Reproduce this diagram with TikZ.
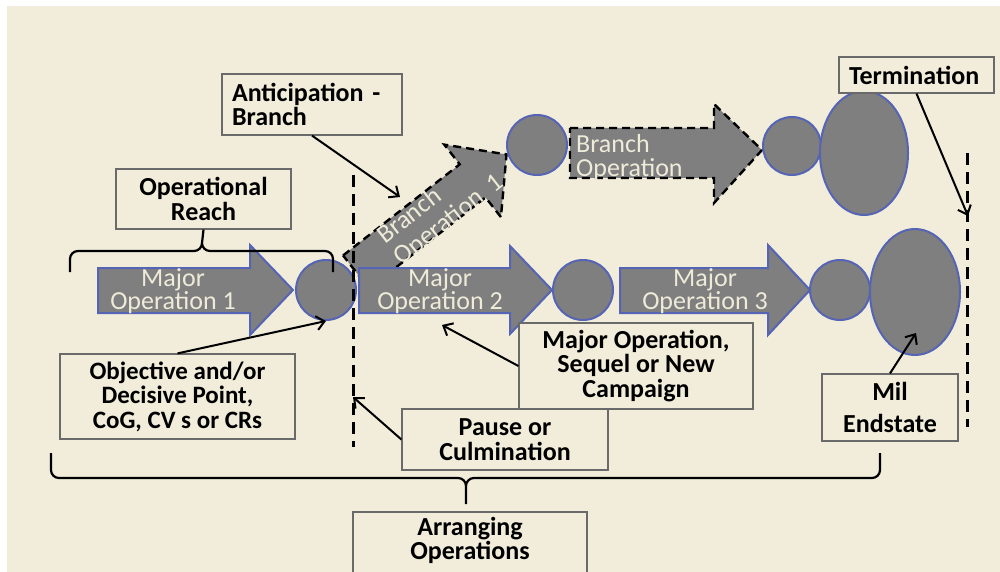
\documentclass[tikz,border=0pt]{standalone}
\usepackage{fontspec}
\setmainfont{Carlito}
\usetikzlibrary{arrows.meta,shapes.geometric}
\definecolor{bg}{HTML}{F1EDDA}
\definecolor{opfill}{HTML}{7F7F7F}
\definecolor{opedge}{HTML}{5564B4}
\definecolor{optext}{HTML}{EEEBD9}
\definecolor{boxedge}{HTML}{6A6A6A}
\tikzset{
  opshape/.style={fill=opfill, draw=opedge, line width=2pt, line join=miter},
  branchshape/.style={fill=opfill, draw=black, line width=2.4pt, dash pattern=on 8pt off 5pt},
  opnode/.style={opshape, inner sep=0pt},
  optxt/.style={text=optext, font=\fontsize{26}{22}\selectfont, align=center, inner sep=0pt},
  lbltxt/.style={inner sep=0pt, font=\bfseries\fontsize{26}{24.5}\selectfont, align=center},
  lbl/.style={lbltxt, draw=boxedge, line width=1.2pt, fill=bg},
  frame/.style={draw=boxedge, line width=1.2pt},
  conn/.style={draw=black, line width=2pt, -{Straight Barb[length=8pt,width=14pt]}},
  brace/.style={draw=black, line width=2.2pt},
  phase/.style={draw=black, line width=3pt, dash pattern=on 12pt off 7pt},
}
\begin{document}
\begin{tikzpicture}[x=1pt,y=-1pt]
\useasboundingbox (0,0) rectangle (1000,572);
\fill[white] (0,0) rectangle (1000,572);
\fill[bg] (7,6) rectangle (1000,572);

% branch operation 1, leaving the main line diagonally
\begin{scope}[shift={(356,272)}, rotate=38]
  \path[branchshape] (0,-21) -- (148,-21) -- (148,-46) -- (191,0) -- (148,46) -- (148,21) -- (0,21) -- cycle;
\end{scope}

% main line of operations
\path[opshape] (98,268) -- (250,268) -- (250,245) -- (293,290) -- (250,335) -- (250,313) -- (98,313) -- cycle;
\node[optxt] (mo1) at (173,291) {Major\\Operation 1};
\node[opnode, circle, minimum size=60pt] (c1) at (326,290) {};

\path[opshape] (359,268) -- (510,268) -- (510,246) -- (552,290) -- (510,334) -- (510,313) -- (359,313) -- cycle;
\node[optxt] (mo2) at (440,291) {Major\\Operation 2};
\node[opnode, circle, minimum size=60pt] (c2) at (583,290) {};

\path[opshape] (620,268) -- (768,268) -- (768,245) -- (810,290) -- (768,335) -- (768,313) -- (620,313) -- cycle;
\node[optxt] (mo3) at (705,291) {Major\\Operation 3};
\node[opnode, circle, minimum size=60pt] (c3) at (840,290) {};
\node[opnode, ellipse, minimum width=90pt, minimum height=126pt] (end1) at (915,292) {};

% caption of the diagonal branch
\node[optxt, rotate=38, align=left, anchor=west, font=\fontsize{26}{27}\selectfont] (b1txt) at (389,250)
  {Branch\\Operation\ \ 1};

% branch line
\node[opnode, circle, minimum size=60pt] (bc1) at (537,145) {};
\path[branchshape] (570,128) -- (714,128) -- (714,104) -- (762,150) -- (714,203) -- (714,178) -- (570,178) -- cycle;
\node[optxt, align=left, anchor=west, font=\fontsize{26}{24}\selectfont] (bo) at (576,158) {Branch\\Operation};
\node[opnode, circle, minimum size=58pt] (bc2) at (792,146) {};
\node[opnode, ellipse, minimum width=88pt, minimum height=124pt] (end2) at (864,153) {};

% phase lines
\coordinate (p1top) at (353,175);
\coordinate (p1bot) at (353,447);
\coordinate (p2top) at (967,153);
\coordinate (p2bot) at (967,427);
\draw[phase] (p1top) -- (p1bot);
\draw[phase] (p2top) -- (p2bot);

% labels
\node[lbl, minimum width=175pt, minimum height=60pt] (reach) at (203.5,199) {Operational\\Reach};
\node[lbl, minimum width=180pt, minimum height=61pt, text width=160pt, align=left] (ant) at (312,104.5) {Anticipation -\\Branch};
\node[lbl, minimum width=155pt, minimum height=36pt, text width=135pt, align=left] (term) at (916.5,75) {Termination};
\node[lbl, minimum width=235pt, minimum height=85pt, font=\bfseries\fontsize{25}{24.5}\selectfont] (obj) at (177.5,396.5)
  {Objective and/or\\Decisive Point,\\CoG, CV s or CRs};
\node[lbl, minimum width=234pt, minimum height=86pt] (seq) at (636,366) {Major Operation,\\Sequel or New\\Campaign};
\node[lbl, minimum width=206pt, minimum height=61pt] (pause) at (505,439.5) {Pause or\\Culmination};
\node[lbl, minimum width=136pt, minimum height=67pt, font=\bfseries\fontsize{26}{32}\selectfont] (mil) at (890,407.5) {Mil\\Endstate};
\draw[frame] (353,580) |- (587,512) -- (587,580);
\node[lbltxt] (arr) at (470,540.5) {Arranging\\Operations};

% braces
\draw[brace] (70,272) -- (70,259) to[out=90,in=180] (78,251) -- (194,251) to[out=0,in=-90] (202,243)
  -- (reach.south) (202,243) to[out=-90,in=180] (210,251) -- (325,251) to[out=0,in=90] (333,259) -- (333,272);
\coordinate (arrtop) at (466,504);
\draw[brace] (51,453) -- (51,470) to[out=-90,in=180] (59,478) -- (458,478) to[out=0,in=90] (466,486)
  -- (arrtop) (466,486) to[out=90,in=180] (474,478) -- (872,478) to[out=0,in=-90] (880,470) -- (880,453);

% pointers
\coordinate (diagpt) at (400,197);
\coordinate (pausept) at (353,397);
\coordinate (seqpt) at (442,325);
\coordinate (milpt) at (916,333);
\coordinate (termpt) at (968,216);
\draw[conn] (ant.south) -- (diagpt);
\draw[conn] (obj.north) -- (c1.south);
\draw[conn] (pause.west) -- (pausept);
\draw[conn] (seq.west) -- (seqpt);
\draw[conn] (mil.north) -- (milpt);
\draw[conn] (term.south) -- (termpt);
\end{tikzpicture}
\end{document}
